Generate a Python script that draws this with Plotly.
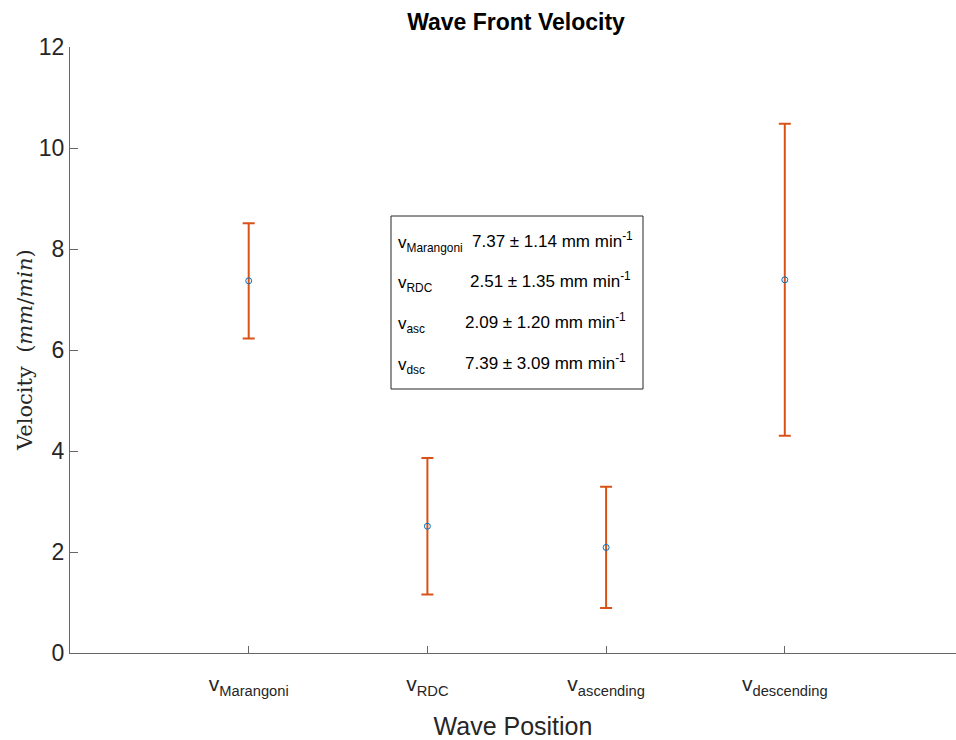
import plotly.graph_objects as go

categories = ["v<sub>Marangoni</sub>", "v<sub>RDC</sub>", "v<sub>ascending</sub>", "v<sub>descending</sub>"]
positions = [1, 2, 3, 4]
means = [7.37, 2.51, 2.09, 7.39]
errors = [1.14, 1.35, 1.20, 3.09]
legend_labels = ["v<sub>Marangoni</sub>", "v<sub>RDC</sub>", "v<sub>asc</sub>", "v<sub>dsc</sub>"]

NARROW = "Liberation Sans Narrow, Arial Narrow, Liberation Sans, Arial, sans-serif"
ERR_COLOR = "#D95319"
MARK_COLOR = "#0072BD"

W, H = 956, 740
L, R, T, B = 70, 0, 47, 87
pw, ph = W - L - R, H - T - B

def px(x):
    return (x - L) / pw

def py(y):
    return (H - B - y) / ph

fig = go.Figure()
fig.add_trace(go.Scatter(
    x=positions, y=means, mode="markers",
    marker=dict(symbol="circle-open", size=6, color=MARK_COLOR, line=dict(width=1)),
    error_y=dict(type="data", array=errors, visible=True, color=ERR_COLOR, thickness=2, width=6),
    showlegend=False,
))

# legend box
fig.add_shape(type="rect", xref="paper", yref="paper",
              x0=px(391), x1=px(643), y0=py(389), y1=py(216),
              line=dict(color="#262626", width=1), fillcolor="white", layer="above")
row_y = [244, 284, 325, 366]
val_x = [470, 468, 463, 463]
for i in range(4):
    fig.add_annotation(xref="paper", yref="paper", x=px(396), y=py(row_y[i]),
                       xanchor="left", yanchor="middle", showarrow=False,
                       text=legend_labels[i], font=dict(family=NARROW, size=17, color="#000"))
    fig.add_annotation(xref="paper", yref="paper", x=px(val_x[i]), y=py(row_y[i] - 4),
                       xanchor="left", yanchor="middle", showarrow=False,
                       text=f"{means[i]:.2f} ± {errors[i]:.2f} mm min<sup>-1</sup>",
                       font=dict(family=NARROW, size=17, color="#000"))

# y-axis label (serif, LaTeX-like)
fig.add_annotation(xref="paper", yref="paper", x=px(25), y=py(350),
                   xanchor="center", yanchor="middle", showarrow=False, textangle=-90,
                   text="Velocity  (<i>mm</i>/<i>min</i>)",
                   font=dict(family="DejaVu Serif, Liberation Serif, serif", size=21, color="#262626"))

fig.update_layout(
    width=W, height=H,
    margin=dict(l=L, r=R, t=T, b=B, pad=0),
    paper_bgcolor="white", plot_bgcolor="white",
    title=dict(text="<b>Wave Front Velocity</b>", xref="container", x=516 / W, xanchor="center",
               y=1 - 22 / H, yanchor="middle",
               font=dict(family=NARROW, size=23, color="#000")),
    xaxis=dict(
        range=[0, (W - L) / 178.7], tickmode="array", tickvals=positions, ticktext=categories,
        showgrid=False, zeroline=False, showline=True, linecolor="#666", linewidth=1,
        ticks="inside", ticklen=7, tickcolor="#666", ticklabelstandoff=12,
        tickfont=dict(family=NARROW, size=21, color="#262626"),
        title=dict(text="Wave Position", font=dict(family=NARROW, size=25, color="#262626"), standoff=21),
    ),
    yaxis=dict(
        range=[0, 12], tickmode="array", tickvals=[0, 2, 4, 6, 8, 10, 12],
        showgrid=False, zeroline=False, showline=True, linecolor="#666", linewidth=1,
        ticks="inside", ticklen=8, tickcolor="#666", ticklabelstandoff=0,
        tickfont=dict(family=NARROW, size=23, color="#262626"),
    ),
)

fig.write_html("out.html")
